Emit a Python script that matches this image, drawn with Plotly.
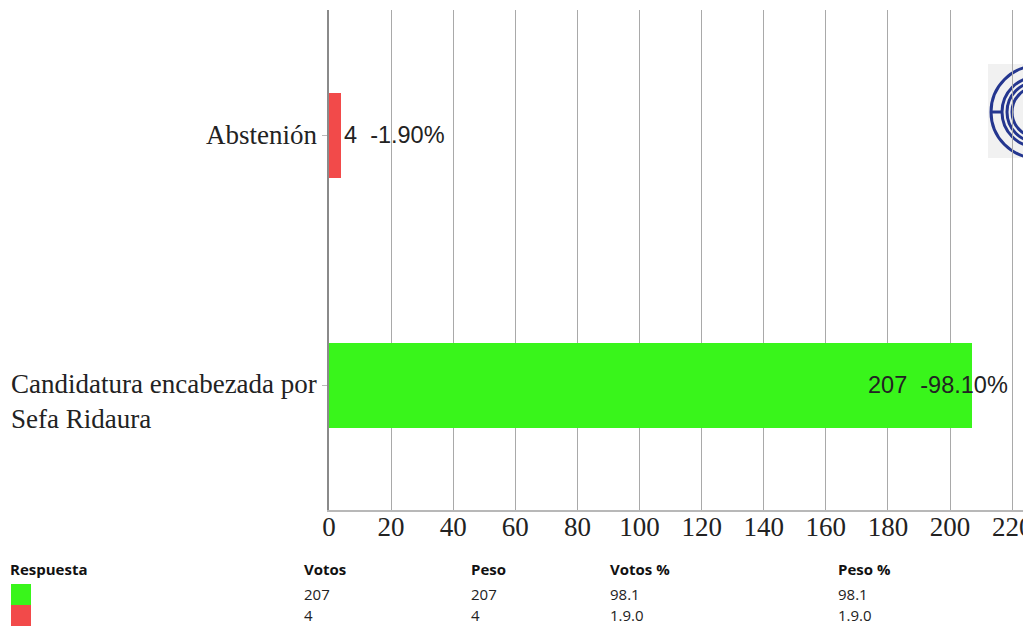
import plotly.graph_objects as go

# ---- data ----
respuestas = ["Candidatura encabezada por<br>Sefa Ridaura", "Abstenión"]
votos = [207, 4]
peso = [207, 4]
votos_pct = ["98.1", "1.9.0"]
peso_pct = ["98.1", "1.9.0"]
bar_pct_labels = ["-98.10%", "-1.90%"]
colors = ["#39f51b", "#f24a4a"]
x_ticks = [0, 20, 40, 60, 80, 100, 120, 140, 160, 180, 200, 220]
table_headers = ["Respuesta", "Votos", "Peso", "Votos %", "Peso %"]

# The chart is wider than the 1023px window (right part is cropped, as in the reference)
W, H = 1060, 626
ML, MT, MB, MR = 329, 10, 116, 0
PW, PH = W - ML - MR, H - MT - MB
X_MAX = 235.4


def px_x(p):
    return (p - ML) / PW


def px_y(p):
    return (H - MB - p) / PH


fig = go.Figure()
fig.add_trace(go.Bar(
    x=votos, y=respuestas, orientation="h",
    marker=dict(color=colors, line=dict(width=0)),
    width=0.34, hoverinfo="x+y",
))

annotations = []
serif = "Liberation Serif, Times New Roman, serif"
sans = "Arial, Liberation Sans, sans-serif"

# category labels (left aligned lines, block right-anchored)
for cat in respuestas:
    nlines = cat.count("<br>") + 1
    annotations.append(dict(
        x=0, xref="paper", y=cat, yref="y", xanchor="right", yanchor="middle",
        xshift=-10, yshift=-(nlines - 1) * 16, text=cat, showarrow=False, align="left",
        font=dict(family=serif, size=27, color="#222222"),
    ))

# bar value labels
for i, cat in enumerate(respuestas):
    txt = f"{votos[i]}\u00a0\u00a0{bar_pct_labels[i]}"
    lf = dict(family=sans, size=23.5, color="#222222")
    if votos[i] > 100:
        annotations.append(dict(x=votos[i], y=cat, xref="x", yref="y", xanchor="right",
                                xshift=38, text=txt, showarrow=False, font=lf))
    else:
        annotations.append(dict(x=votos[i], y=cat, xref="x", yref="y", xanchor="left",
                                xshift=1, text=txt, showarrow=False, font=lf))

# table below chart
tfont = "Open Sans, Noto Sans, sans-serif"
col_x = [8, 302, 469, 608, 836]
header_y, row_y = 569, [594, 615]
for hx, htxt in zip(col_x, table_headers):
    annotations.append(dict(x=px_x(hx), y=px_y(header_y), xref="paper", yref="paper",
                            xanchor="left", yanchor="middle", text=f"<b>{htxt}</b>",
                            showarrow=False, font=dict(family=tfont, size=15, color="#111111")))
shapes = []
for r in range(len(votos)):
    vals = [votos[r], peso[r], votos_pct[r], peso_pct[r]]
    for cx_, v in zip(col_x[1:], vals):
        annotations.append(dict(x=px_x(cx_), y=px_y(row_y[r]), xref="paper", yref="paper",
                                xanchor="left", yanchor="middle", text=str(v),
                                showarrow=False, font=dict(family=tfont, size=15, color="#222222")))
    shapes.append(dict(type="rect", xref="paper", yref="paper",
                       x0=px_x(11), x1=px_x(31), y0=px_y(row_y[r] + 11), y1=px_y(row_y[r] - 10),
                       fillcolor=colors[r], line=dict(width=0), layer="above"))

# logo (partial, at top right)
shapes.append(dict(type="rect", xref="paper", yref="paper", x0=px_x(988), x1=px_x(1040),
                   y0=px_y(158), y1=px_y(64), fillcolor="#f1f1f1", line=dict(width=0), layer="below"))
cx, cy = 1037, 112
for r in [46, 35, 30, 25]:
    shapes.append(dict(type="circle", xref="paper", yref="paper",
                       x0=px_x(cx - r), x1=px_x(cx + r), y0=px_y(cy + r), y1=px_y(cy - r),
                       line=dict(color="#24368f", width=3), layer="below"))
shapes.append(dict(type="line", xref="paper", yref="paper", x0=px_x(991), x1=px_x(1002),
                   y0=px_y(cy), y1=px_y(cy), line=dict(color="#24368f", width=3), layer="below"))

fig.update_layout(
    width=W, height=H,
    margin=dict(l=ML, r=MR, t=MT, b=MB, pad=0),
    paper_bgcolor="white", plot_bgcolor="rgba(0,0,0,0)",
    showlegend=False,
    annotations=annotations, shapes=shapes,
    bargap=0,
)
fig.update_xaxes(
    range=[0, X_MAX], tickvals=x_ticks, showgrid=True, gridcolor="#a9a9a9", gridwidth=1,
    zeroline=False, showline=True, linecolor="#b8b8b8", linewidth=2,
    tickfont=dict(family=serif, size=27, color="#222222"), ticks="",
    ticklabeloverflow="allow", ticklabelstandoff=-8, fixedrange=True,
)
fig.update_yaxes(
    showticklabels=False, ticks="outside", ticklen=5, tickcolor="#bbbbbb",
    showline=True, linecolor="#8a8a8a", linewidth=2, showgrid=False, zeroline=False,
    range=[-0.5, 1.5], fixedrange=True,
)

fig.write_html(
    "out.html",
    config={"displayModeBar": False},
    post_script="document.body.style.margin='0';document.body.style.overflow='hidden';",
)
